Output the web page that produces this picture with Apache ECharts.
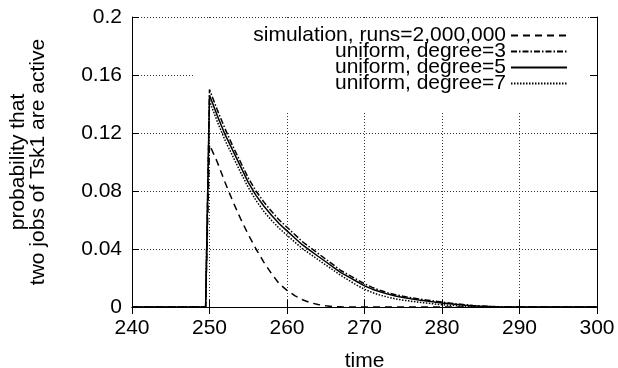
<!DOCTYPE html>
<html>
<head>
<meta charset="utf-8">
<script src="https://cdn.jsdelivr.net/npm/echarts@6/dist/echarts.min.js"></script>
<style>
  html, body { margin: 0; padding: 0; background: #fff; }
  #chart { width: 618px; height: 368px; }
</style>
</head>
<body>
<div id="chart"></div>
<script>
const times = [240, 249.5,
  250, 251, 252, 253, 254, 255, 256, 257, 258, 259,
  260, 261, 262, 263, 264, 265, 266, 267, 268, 269,
  270, 271, 272, 273, 274, 275, 276, 277, 278, 279,
  280, 281, 282, 283, 284, 285, 286, 287, 288, 289,
  290, 300]

const simulation = [0, 0,
  0.112, 0.100, 0.086, 0.073, 0.061, 0.050, 0.040, 0.031, 0.023, 0.016,
  0.0115, 0.0078, 0.005, 0.003, 0.0017, 0.0008, 0.0003, 0.0001, 0, 0,
  0, 0, 0, 0, 0, 0, 0, 0, 0, 0,
  0, 0, 0, 0, 0, 0, 0, 0, 0, 0,
  0, 0]

const degree3 = [0, 0,
  0.150, 0.136, 0.123, 0.111, 0.100, 0.089, 0.080, 0.0725, 0.066, 0.060,
  0.055, 0.050, 0.045, 0.041, 0.037, 0.033, 0.029, 0.025, 0.022, 0.019,
  0.016, 0.0135, 0.0115, 0.0098, 0.0085, 0.0074, 0.0064, 0.0056, 0.0048, 0.0041,
  0.0034, 0.0027, 0.0021, 0.0016, 0.0011, 0.0007, 0.0004, 0.0002, 0.0001, 0,
  0, 0]

const degree5 = [0, 0,
  0.146, 0.132, 0.119, 0.108, 0.097, 0.086, 0.077, 0.0697, 0.0633, 0.0574,
  0.0525, 0.0476, 0.0428, 0.0389, 0.035, 0.0312, 0.0274, 0.0236, 0.0206, 0.0176,
  0.0146, 0.0123, 0.0105, 0.0089, 0.0076, 0.0066, 0.0057, 0.0049, 0.0042, 0.0035,
  0.0028, 0.0022, 0.0017, 0.0012, 0.0008, 0.0005, 0.0003, 0.0001, 0, 0,
  0, 0]

const degree7 = [0, 0,
  0.142, 0.128, 0.115, 0.104, 0.093, 0.0825, 0.0735, 0.066, 0.0598, 0.0542,
  0.0495, 0.0448, 0.0402, 0.0365, 0.0327, 0.029, 0.0253, 0.0216, 0.0183, 0.0151,
  0.0122, 0.0100, 0.0082, 0.0068, 0.0056, 0.0047, 0.0040, 0.0033, 0.0027, 0.0021,
  0.0016, 0.0012, 0.0008, 0.0005, 0.0003, 0.0001, 0, 0, 0, 0,
  0, 0]

const seriesNames = ['simulation, runs=2,000,000', 'uniform, degree=3', 'uniform, degree=5', 'uniform, degree=7']
const yTickLabels = ['0', '0.04', '0.08', '0.12', '0.16', '0.2']

const font = 'Liberation Sans'
const pairs = vals => times.map((t, i) => [t, vals[i]])

const chart = echarts.init(document.getElementById('chart'))

const tickStyle = { inside: true, length: 7, lineStyle: { color: '#000', width: 1 } }
const gridStyle = { show: true, lineStyle: { color: '#333', width: 1, type: [1, 2] } }

const lineSeries = (name, vals, type) => ({
  name: name,
  type: 'line',
  data: pairs(vals),
  symbol: 'none',
  xAxisIndex: 0,
  yAxisIndex: 0,
  lineStyle: { color: '#000', width: 1.5, type: type },
  itemStyle: { color: '#000' },
  z: 2
})

chart.setOption({
  animation: false,
  grid: { left: 132, right: 21, top: 17, bottom: 61, outerBoundsMode: 'none' },
  legend: {
    orient: 'vertical',
    align: 'right',
    right: 50,
    top: 25,
    padding: 0,
    itemGap: -5,
    itemWidth: 56,
    itemHeight: 14,
    selectedMode: false,
    itemStyle: { opacity: 0 },
    textStyle: { fontFamily: font, fontSize: 21, color: '#000', lineHeight: 16 },
    data: seriesNames
  },
  graphic: [{
    type: 'rect',
    z: 1,
    shape: { x: 195, y: 18, width: 401, height: 94 },
    style: { fill: '#fff' }
  }],
  xAxis: [{
    type: 'value',
    min: 240,
    max: 300,
    interval: 10,
    name: 'time',
    nameLocation: 'middle',
    nameGap: 44,
    nameTextStyle: { fontFamily: font, fontSize: 21, color: '#000' },
    axisLine: { show: true, lineStyle: { color: '#000', width: 1 } },
    axisTick: tickStyle,
    axisLabel: { fontFamily: font, fontSize: 21, color: '#000', margin: 11 },
    splitLine: gridStyle
  }, {
    type: 'value',
    position: 'top',
    min: 240,
    max: 300,
    interval: 10,
    z: 3,
    axisLine: { show: true, lineStyle: { color: '#000', width: 1 } },
    axisTick: tickStyle,
    axisLabel: { show: false },
    splitLine: { show: false }
  }],
  yAxis: [{
    type: 'value',
    min: 0,
    max: 0.2,
    interval: 0.04,
    name: 'probability that\ntwo jobs of Tsk1 are active',
    nameLocation: 'middle',
    nameGap: 84,
    nameTextStyle: { fontFamily: font, fontSize: 21, color: '#000', lineHeight: 20 },
    axisLine: { show: true, lineStyle: { color: '#000', width: 1 } },
    axisTick: tickStyle,
    axisLabel: {
      fontFamily: font,
      fontSize: 21,
      color: '#000',
      margin: 10,
      formatter: (v, i) => yTickLabels[i]
    },
    splitLine: gridStyle
  }, {
    type: 'value',
    position: 'right',
    min: 0,
    max: 0.2,
    interval: 0.04,
    z: 3,
    axisLine: { show: true, lineStyle: { color: '#000', width: 1 } },
    axisTick: tickStyle,
    axisLabel: { show: false },
    splitLine: { show: false }
  }],
  series: [
    lineSeries(seriesNames[0], simulation, [7, 5]),
    lineSeries(seriesNames[1], degree3, [6, 2, 1.5, 2]),
    lineSeries(seriesNames[2], degree5, 'solid'),
    lineSeries(seriesNames[3], degree7, [1.5, 1.5])
  ]
})
</script>
</body>
</html>
